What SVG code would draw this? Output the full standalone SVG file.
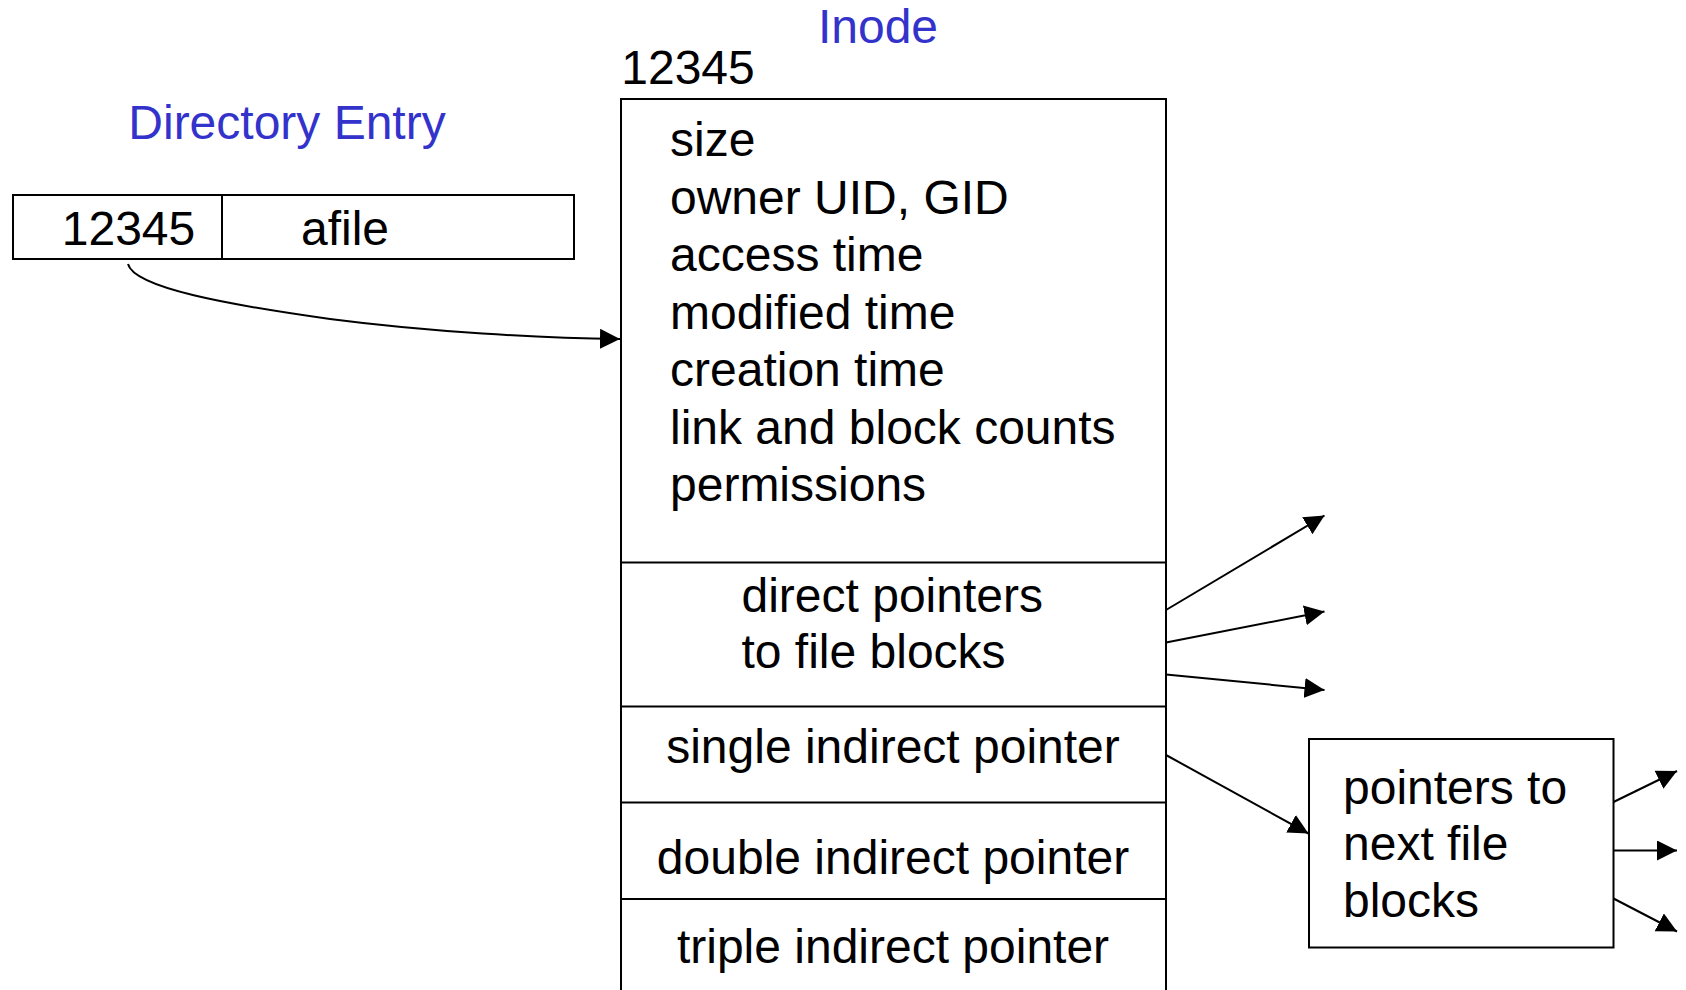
<svg xmlns="http://www.w3.org/2000/svg" width="1686" height="990" viewBox="0 0 1686 990">
  <style>
    text { font-family: "Liberation Sans", Arial, sans-serif; font-size: 48px; fill: #000; }
    .title { fill: #3333CC; }
    .mid { text-anchor: middle; }
    .box { fill: #fff; stroke: #000; stroke-width: 2; }
    .sep { stroke: #000; stroke-width: 2; }
    .conn { fill: none; stroke: #000; stroke-width: 2; marker-end: url(#arrow); }
  </style>
  <defs>
    <marker id="arrow" markerUnits="userSpaceOnUse" markerWidth="21" markerHeight="21" refX="20" refY="10" orient="auto">
      <path d="M0,0 L20,10 L0,20 Z" fill="#000"/>
    </marker>
  </defs>
  <rect width="1686" height="990" fill="#fff"/>

  <!-- directory entry: inode number + file name -->
  <g id="directory-entry">
    <text class="title mid" x="287" y="139">Directory Entry</text>
    <rect class="box" x="13" y="195" width="561" height="64"/>
    <line class="sep" x1="222" y1="195" x2="222" y2="259"/>
    <text class="mid" x="128.5" y="245">12345</text>
    <text class="mid" x="345" y="245">afile</text>
  </g>

  <!-- inode record with attribute and pointer sections -->
  <g id="inode">
    <text class="title mid" x="878" y="43">Inode</text>
    <text class="mid" x="688" y="84">12345</text>
    <rect class="box" x="621" y="99" width="545" height="920"/>
    <line class="sep" x1="621" y1="562.5" x2="1166" y2="562.5"/>
    <line class="sep" x1="621" y1="706.5" x2="1166" y2="706.5"/>
    <line class="sep" x1="621" y1="802.5" x2="1166" y2="802.5"/>
    <line class="sep" x1="621" y1="899" x2="1166" y2="899"/>
    <text x="670" y="156">size</text>
    <text x="670" y="213.5">owner UID, GID</text>
    <text x="670" y="271">access time</text>
    <text x="670" y="328.5">modified time</text>
    <text x="670" y="386">creation time</text>
    <text x="670" y="443.5">link and block counts</text>
    <text x="670" y="501">permissions</text>
    <text x="741.5" y="611.5">direct pointers</text>
    <text x="741.5" y="668">to file blocks</text>
    <text class="mid" x="893" y="762.5">single indirect pointer</text>
    <text class="mid" x="893" y="874">double indirect pointer</text>
    <text class="mid" x="893" y="962.5">triple indirect pointer</text>
  </g>

  <!-- indirect block -->
  <g id="indirect-block">
    <rect class="box" x="1309" y="739" width="304.5" height="208.5"/>
    <text x="1343" y="803.5">pointers to</text>
    <text x="1343" y="860">next file</text>
    <text x="1343" y="916.5">blocks</text>
  </g>

  <g id="connectors">
    <path class="conn" stroke-width="1.6" d="M128,264 C134,288 230,305 330,319 C430,332 540,338 620,339"/>
    <line class="conn" x1="1166" y1="610" x2="1324.5" y2="515.5"/>
    <line class="conn" x1="1166" y1="642.5" x2="1324.5" y2="611.5"/>
    <line class="conn" x1="1166" y1="674.5" x2="1324.5" y2="690"/>
    <line class="conn" x1="1166" y1="755" x2="1308.5" y2="833.5"/>
    <line class="conn" x1="1613.5" y1="802" x2="1677" y2="771"/>
    <line class="conn" x1="1613.5" y1="850.5" x2="1677" y2="850.5"/>
    <line class="conn" x1="1613.5" y1="898.5" x2="1677" y2="931.5"/>
  </g>
</svg>
